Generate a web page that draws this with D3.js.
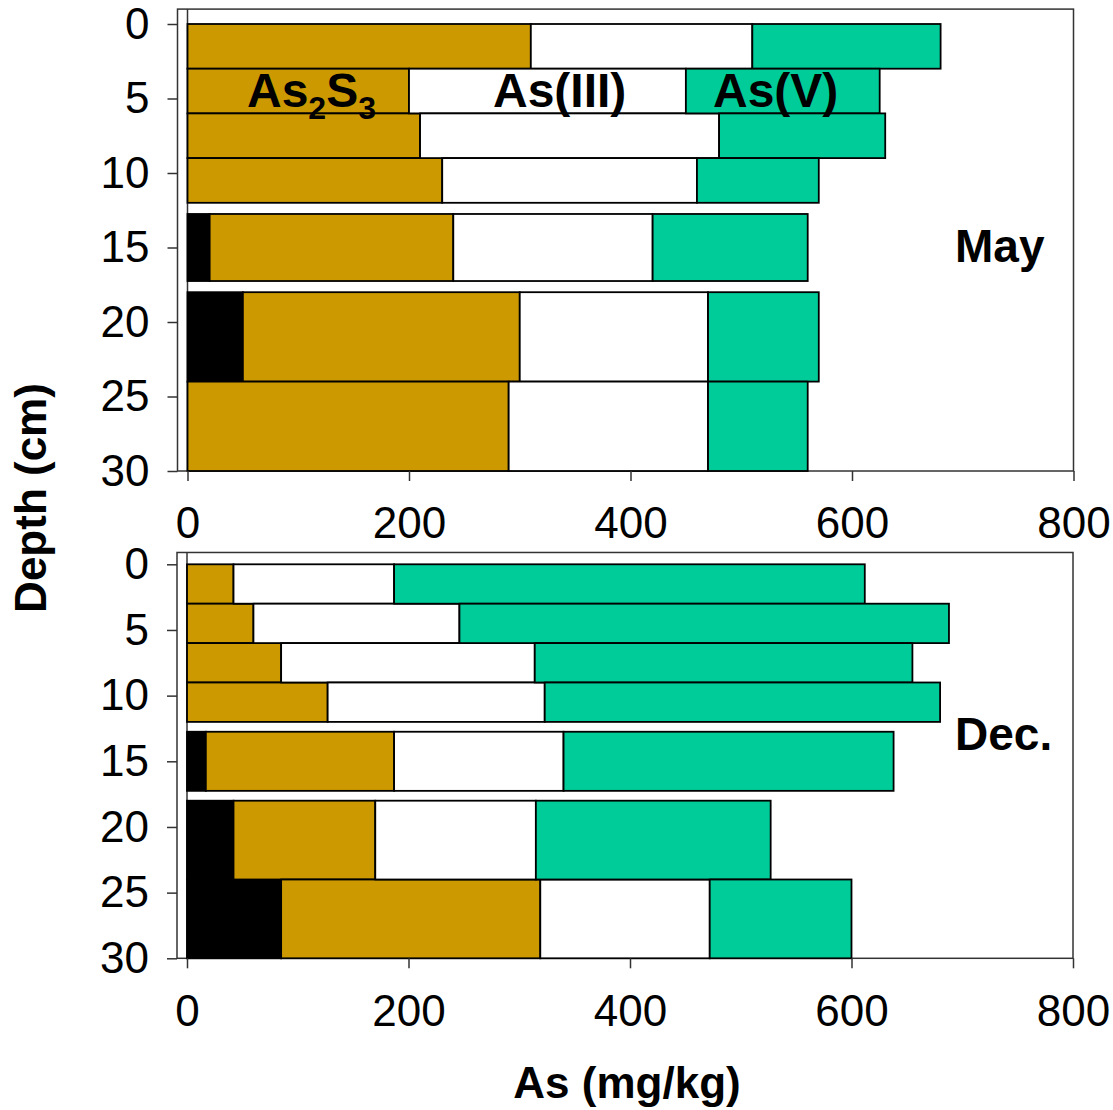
<!DOCTYPE html>
<html>
<head>
<meta charset="utf-8">
<script src="https://cdn.jsdelivr.net/npm/d3@7"></script>
<style>
  body { margin: 0; background: #fff; }
  svg { display: block; font-family: "Liberation Sans", Arial, sans-serif; }
</style>
</head>
<body>
<svg id="chart" width="1113" height="1110"></svg>
<script>
// ---- data ----
const depthTop    = [0, 3, 6, 9, 12.75, 18, 24];
const depthBottom = [3, 6, 9, 12, 17.25, 24, 30];
const seriesKeys  = ["Black", "As2S3", "AsIII", "AsV"];

// May (segment values, mg/kg)
const mayBlack = [0, 0, 0, 0, 20, 50, 0];
const mayAs2S3 = [310, 200, 210, 230, 220, 250, 290];
const mayAsIII = [200, 250, 270, 230, 180, 170, 180];
const mayAsV   = [170, 175, 150, 110, 140, 100, 90];

// Dec. (segment values, mg/kg)
const decBlack = [0, 0, 0, 0, 17, 42, 85];
const decAs2S3 = [42, 60, 85, 127, 170, 128, 234];
const decAsIII = [145, 186, 229, 196, 153, 145, 153];
const decAsV   = [425, 442, 341, 357, 298, 212, 128];

const xTicks = [0, 200, 400, 600, 800];
const yTicks = [0, 5, 10, 15, 20, 25, 30];

const colors = { Black: "#000000", As2S3: "#CC9900", AsIII: "#FFFFFF", AsV: "#00CC99" };

// ---- drawing ----
const svg = d3.select("#chart");

function buildRows(black, s, iii, v) {
  return depthTop.map((t, i) => ({
    top: t, bottom: depthBottom[i],
    Black: black[i], As2S3: s[i], AsIII: iii[i], AsV: v[i]
  }));
}

function drawPanel(rows, opt) {
  const x = d3.scaleLinear().domain([0, 800]).range([opt.x0, opt.x1]);
  const y = d3.scaleLinear().domain([0, 30]).range([opt.y0, opt.y1]);
  const g = svg.append("g");
  const frameTop = y(opt.frameTopDepth);
  const axisX = opt.x0 - 10;

  // frame
  g.append("rect")
    .attr("x", axisX).attr("y", frameTop)
    .attr("width", x(800) - axisX).attr("height", y(30) - frameTop)
    .attr("fill", "none").attr("stroke", "#333").attr("stroke-width", 1.5);
  g.append("line")
    .attr("x1", x(0)).attr("x2", x(0)).attr("y1", frameTop).attr("y2", y(30))
    .attr("stroke", "#333").attr("stroke-width", 1.5);

  // bars
  const stack = d3.stack().keys(seriesKeys)(rows);
  stack.forEach(layer => {
    g.append("g").selectAll("rect")
      .data(layer.filter(d => d[1] - d[0] > 0))
      .join("rect")
      .attr("x", d => x(d[0]))
      .attr("width", d => x(d[1]) - x(d[0]))
      .attr("y", d => y(d.data.top))
      .attr("height", d => y(d.data.bottom) - y(d.data.top))
      .attr("fill", colors[layer.key])
      .attr("stroke", "#000")
      .attr("stroke-width", 1.8);
  });

  // y axis
  const yAxis = d3.axisLeft(y).tickValues(yTicks).tickSize(10).tickPadding(18).tickSizeOuter(0);
  const ya = g.append("g").attr("transform", `translate(${axisX},0)`).call(yAxis);
  ya.select(".domain").remove();
  ya.selectAll(".tick line").attr("stroke", "#333").attr("stroke-width", 1.5);
  ya.selectAll(".tick text").attr("font-size", 44).attr("fill", "#000")
    .attr("font-family", "Liberation Sans, Arial, sans-serif");

  // x axis
  const xAxis = d3.axisBottom(x).tickValues(xTicks).tickSize(10).tickPadding(26).tickSizeOuter(0);
  const xa = g.append("g").attr("transform", `translate(0,${y(30)})`).call(xAxis);
  xa.select(".domain").remove();
  xa.selectAll(".tick line").attr("stroke", "#333").attr("stroke-width", 1.5);
  xa.selectAll(".tick text").attr("font-size", 44).attr("fill", "#000")
    .attr("font-family", "Liberation Sans, Arial, sans-serif");

  // month label
  g.append("text").attr("x", 955).attr("y", opt.labelY)
    .attr("font-size", 46).attr("font-weight", "bold").text(opt.label);
  return { x, y, g };
}

const panelMay = drawPanel(buildRows(mayBlack, mayAs2S3, mayAsIII, mayAsV),
  { x0: 187.5, x1: 1073.5, y0: 24, y1: 471, frameTopDepth: -1, label: "May", labelY: 262 });
const panelDec = drawPanel(buildRows(decBlack, decAs2S3, decAsIII, decAsV),
  { x0: 187, x1: 1073, y0: 564.3, y1: 958.3, frameTopDepth: -0.9, label: "Dec.", labelY: 750 });

// species labels in top panel
const lab = svg.append("g").attr("font-size", 48).attr("font-weight", "bold").attr("fill", "#000");
const t1 = lab.append("text").attr("x", 247).attr("y", 107);
t1.append("tspan").text("As");
t1.append("tspan").attr("font-size", 32).attr("dy", 12).text("2");
t1.append("tspan").attr("dy", -12).text("S");
t1.append("tspan").attr("font-size", 32).attr("dy", 12).text("3");
lab.append("text").attr("x", 493).attr("y", 107).text("As(III)");
lab.append("text").attr("x", 713).attr("y", 107).text("As(V)");

// axis titles
svg.append("text").attr("transform", "translate(46,498) rotate(-90)")
  .attr("text-anchor", "middle").attr("font-size", 44).attr("font-weight", "bold").text("Depth (cm)");
svg.append("text").attr("x", 627).attr("y", 1098)
  .attr("text-anchor", "middle").attr("font-size", 44).attr("font-weight", "bold").text("As (mg/kg)");
</script>
</body>
</html>
